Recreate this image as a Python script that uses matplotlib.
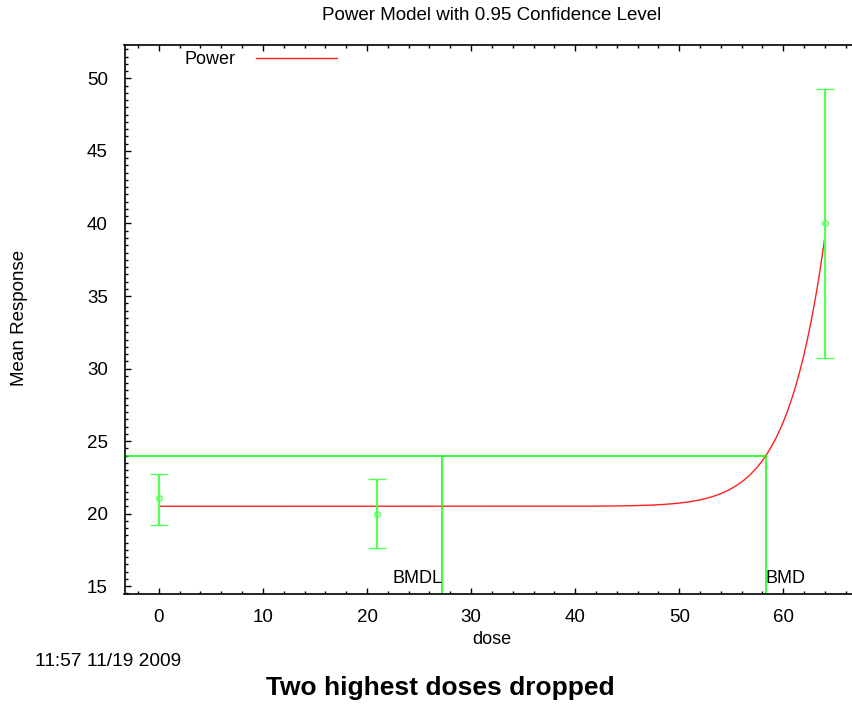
import numpy as np
import matplotlib
matplotlib.use('Agg')
import matplotlib.pyplot as plt
from matplotlib.ticker import MultipleLocator
import matplotlib.transforms as mtransforms

plt.rcParams['font.family'] = ['Liberation Sans', 'DejaVu Sans']

# observed data (dose groups kept after dropping the two highest)
doses = [0, 21, 64]
means = [21.07, 20.0, 40.0]
upper = [22.7, 22.4, 49.25]
lower = [19.23, 17.6, 30.72]

# fitted power model: control + slope * dose ** power
control = 20.5
power = 18
bmd = 58.3
bmdl = 27.25
bmd_response = 23.97
slope = (bmd_response - control) / bmd ** power

x_lo, x_hi = -3.3, 66.6
y_lo, y_hi = 14.45, 52.33

GREEN = '#00ff00'
BAR_GREEN = '#55ff55'
RED = '#ff2020'

fig = plt.figure(figsize=(8.52, 7.04), dpi=100)
ax = fig.add_axes([124.5 / 852, 1 - 594 / 704, 1 - 124.5 / 852, (594 - 44.7) / 704])

# model curve
xs = np.linspace(0, doses[-1], 400)
ax.plot(xs, control + slope * xs ** power, color=RED, lw=1.0, label='Power')

# confidence bars
yerr = [np.array(means) - np.array(lower), np.array(upper) - np.array(means)]
ax.errorbar(doses, means, yerr=yerr, fmt='o', ms=4, mfc='none', mec=BAR_GREEN, mew=1.0,
            ecolor=BAR_GREEN, elinewidth=1.6, capsize=6.5, capthick=1.6, zorder=3)

# BMD / BMDL lines
ax.plot([x_lo, bmd], [bmd_response, bmd_response], color=GREEN, lw=1.1)
ax.plot([bmdl, bmdl], [y_lo, bmd_response], color=GREEN, lw=1.1)
ax.plot([bmd, bmd], [y_lo, bmd_response], color=GREEN, lw=1.1)

trans = mtransforms.blended_transform_factory(ax.transData, ax.transAxes)
ax.text(bmdl, 0.012, 'BMDL', transform=trans, ha='right', va='bottom', fontsize=13)
ax.text(bmd, 0.012, 'BMD', transform=trans, ha='left', va='bottom', fontsize=13)

ax.set_xlim(x_lo, x_hi)
ax.set_ylim(y_lo, y_hi)
ax.xaxis.set_major_locator(MultipleLocator(10))
ax.xaxis.set_minor_locator(MultipleLocator(2))
ax.yaxis.set_major_locator(MultipleLocator(5))
ax.yaxis.set_minor_locator(MultipleLocator(0.5))
ax.tick_params(which='both', direction='in', top=True, right=False, width=1.0)
ax.tick_params(which='major', length=4.5, labelsize=13.5)
ax.tick_params(axis='x', which='major', pad=11)
ax.tick_params(axis='y', which='major', pad=12)
ax.tick_params(which='minor', length=2.2)
ax.spines['right'].set_visible(False)
for s in ['left', 'bottom', 'top']:
    ax.spines[s].set_linewidth(1.2)

ax.legend(loc='upper left', bbox_to_anchor=(0.083, 0.988), frameon=False, markerfirst=False,
          handlelength=4.5, handletextpad=1.1, borderpad=0, borderaxespad=0, fontsize=13)

fig.text(492 / 852, 1 - 15 / 704, 'Power Model with 0.95 Confidence Level', ha='center', va='center', fontsize=13.5)
fig.text(492 / 852, 1 - 640 / 704, 'dose', ha='center', va='center', fontsize=13)
fig.text(20 / 852, 1 - 318 / 704, 'Mean Response', ha='center', va='center', rotation=90, fontsize=13.5)
fig.text(35 / 852, 1 - 661 / 704, '11:57 11/19 2009', ha='left', va='center', fontsize=13.8)
fig.text(440 / 852, 1 - 688 / 704, 'Two highest doses dropped', ha='center', va='center',
         fontsize=19, fontweight='bold')

fig.savefig('out.png', dpi=100)
